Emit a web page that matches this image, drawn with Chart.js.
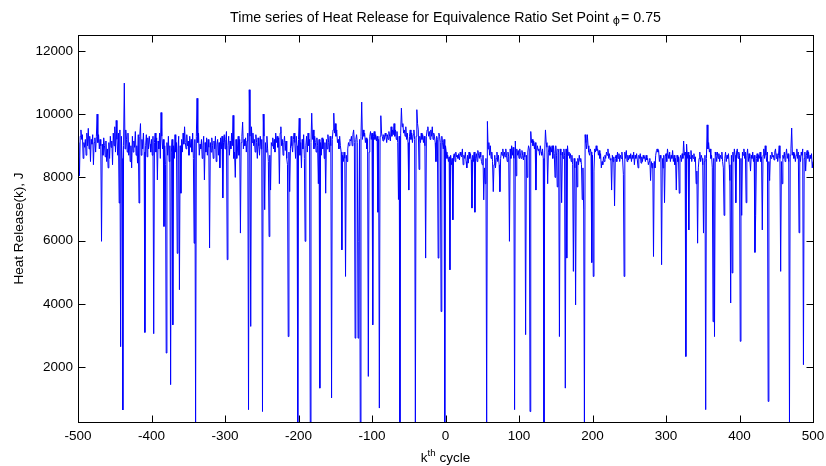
<!DOCTYPE html>
<html>
<head>
<meta charset="utf-8">
<script src="https://cdn.jsdelivr.net/npm/chart.js@4.4.1/dist/chart.umd.min.js"></script>
<style>
    html, body { margin: 0; padding: 0; background: #fff; }
    #wrap { width: 826px; height: 466px; }
</style>
</head>
<body>
<div id="wrap"><canvas id="heatChart" width="826" height="466"></canvas></div>
<script>
// k-th cycle runs from -500 to 500, one value per cycle
const firstCycle = -500;

// Heat release per cycle (J)
const heatRelease = [
    8700,9100,8050,9300,9500,9200,9350,8600,9100,8950,9200,8700,9400,9000,9550,8900,9300,8500,9200,9050,9350,8400,9100,9250,8800,9300,10000,9100,9350,8900,9200,9000,5980,9050,8700,9250,9000,8650,9150,8500,8900,8300,9100,8600,9300,8950,9150,8400,9400,9000,
    9600,8800,9800,9200,8700,9400,7190,9500,2650,9300,8600,650,9000,10980,8900,9500,9200,8800,9400,8700,9100,8500,9000,8300,9300,8800,9150,8950,9450,8700,9000,8450,9350,7190,9300,9700,8700,9200,8900,9400,8800,3100,9000,9350,8650,9250,8900,9300,9050,8800,
    9200,8700,9300,3060,9100,9400,8800,9250,7920,9150,8900,9400,8600,10050,9300,8900,9200,6450,9000,8400,2450,9100,8700,9300,8500,9000,1450,8800,9200,3340,9000,8600,9350,8800,9100,5600,8900,9300,4450,9000,7500,9200,8800,9400,9050,9600,9100,8900,9350,9000,
    9150,8700,9300,8950,9200,8800,9400,8600,5920,9200,270,9300,10500,9100,9400,8700,9050,8900,9200,8600,9000,9300,7920,9100,8800,9250,8700,9200,8950,5770,9100,8800,9250,9000,8600,9150,8900,9300,8500,9050,9200,8700,9100,8300,9250,8900,9300,7350,9100,9350,
    8900,9200,9450,5400,9000,9300,8700,9150,8900,9400,9000,9960,8600,8800,8000,9200,8600,8900,9300,8700,9200,6240,9100,9300,9750,8900,9200,9000,9250,8800,9150,9400,660,10770,9300,3290,9600,9100,9400,9000,9200,8800,9350,9100,8600,9250,9000,8700,9300,8900,
    9200,600,10000,9300,6980,9100,8800,9300,8900,8500,6130,8700,7600,9100,9000,9250,8900,9200,8800,9400,9100,9300,8950,9250,7800,9400,9600,9000,9200,8700,9100,9300,8850,9150,8600,8400,2970,8800,7550,8900,9300,9000,8800,9200,9400,9100,8600,9300,9000,270,
    9200,9870,8700,9100,8300,9200,8900,9350,8600,5980,9000,9300,8800,9400,9000,9200,270,9100,10030,9200,9500,8900,9300,9100,8800,9250,9000,7800,9200,1340,9100,8700,9250,8900,9200,8600,9100,7500,9200,8900,9350,9100,8800,9300,9000,1030,9200,9500,10030,9400,
    9700,9300,9500,9100,9200,8900,9300,9000,8800,5710,8700,8500,8800,8600,4870,8700,8500,8900,9100,9000,9200,9150,9300,9000,9350,9500,9100,2920,9200,9350,9100,2920,5980,9200,270,9300,10380,9200,9500,9300,9400,9100,9250,8900,9200,1710,8800,9300,9450,9200,
    9400,3340,9300,9450,9200,9350,9150,9300,6900,9200,710,9300,9950,9400,9300,9150,9350,9200,9400,9300,9100,9350,9200,9450,9300,9150,9600,9300,9500,9350,9700,9300,9500,9200,9450,9100,7300,9300,270,9400,10190,9600,9700,9400,9500,9300,9600,9200,9400,9100,
    7600,9300,9500,9200,9400,9100,9350,9500,9200,270,9300,10140,9700,9500,8250,9300,9100,9400,9200,9350,9100,9300,9000,5450,9300,9500,9600,9300,9450,9200,9500,9300,9600,9200,9400,9300,9100,8500,9300,9200,5450,9400,9300,9100,3760,9300,9100,8900,9200,270,
    9000,8800,8600,8700,8500,8650,5080,8700,8400,8600,6660,8700,8750,8500,8800,8650,8700,8600,8750,8550,8800,8700,8650,8900,8400,8700,8600,8800,8500,8300,8700,8450,8800,8600,8750,8550,7030,8700,8500,8800,6900,8600,8750,8500,8850,8700,8600,8800,8650,8500,
    8400,8700,7290,8300,7800,8600,270,9770,8900,9100,8700,9000,8600,8800,8500,7550,8400,8700,8300,8600,8800,8500,8700,8400,7550,8600,8800,8700,8900,8600,8800,8650,8900,8700,8500,8800,8650,5980,8900,8600,9000,8700,8950,8600,660,9150,8050,8900,8700,8850,
    8600,8900,8700,8600,8850,8700,8550,8800,8650,3030,8700,8000,8800,9000,8900,600,9450,9100,9200,9000,9150,8900,9100,7600,8800,9000,8850,8900,8700,9000,8800,8700,8900,8600,270,8800,9500,9100,8950,7800,8800,9000,8700,8950,8800,9000,8600,9000,8750,8000,
    9000,8700,7700,8900,8800,2970,8900,8700,7200,8800,8600,8900,8700,1340,8900,5450,9000,8700,8800,8600,8750,8500,8700,8400,5030,8600,8300,3970,8500,7700,8600,8400,8700,8500,8600,8400,7300,8300,7000,270,9350,9100,8900,9350,9000,8800,8700,8900,8800,5310,
    8700,4870,8200,8900,8800,9000,8850,8900,8700,8850,8600,8750,8300,8500,8400,8650,8500,8700,8600,8800,8700,8900,8600,8750,8550,8600,7600,8700,8500,8650,7100,8600,8700,8500,8800,8600,8750,8500,8700,8600,8800,8550,8100,4870,8800,8600,8850,8500,8700,8550,
    8700,8600,8750,8500,8700,8600,8800,8400,8700,8600,8750,8550,8300,8700,8600,8750,8450,8650,8500,8700,8600,8650,8500,8700,8550,8600,8400,8500,8600,7900,8500,8300,8450,5500,8500,8300,8700,8850,8900,8800,8850,8500,8700,8600,5240,8600,8300,8700,7200,8650,
    8750,8500,8900,8700,8600,8800,8500,8700,8600,8850,8500,8700,8400,8600,7600,8700,8500,8650,7500,8600,8700,8500,8750,8600,9150,8700,8800,2340,9050,8600,8800,6340,8700,8600,8850,8500,8700,8600,8750,8500,8650,7800,8200,5920,8300,8600,8800,8500,8700,8600,
    8400,6240,8500,8700,660,8600,9660,8900,9100,8800,8900,8600,8700,8300,3440,8600,2970,8800,8700,8500,8800,8600,8750,8500,8700,8600,8800,8500,8300,6800,8600,8800,8500,8700,8600,8750,8400,7900,4030,8700,4980,8800,8500,8900,8700,7200,8800,8900,8600,8800,
    8700,2820,8600,6800,8800,8700,8900,8600,8800,7200,8700,8900,8500,8750,8600,8200,8700,8600,8800,8500,8700,5630,6800,8600,8750,8500,8700,8600,8800,8500,8650,6340,8700,8900,8600,9000,8700,8500,8800,920,8500,7900,8700,8600,8800,8650,8700,8550,8800,8900,
    8600,8750,8500,8700,9000,8600,5030,8500,7800,8700,8600,8800,8500,8700,8900,8600,8750,8500,270,8700,8900,9560,8700,8800,8600,8750,8500,8700,8900,8600,8800,6250,8700,8500,8800,8700,8900,2080,8600,8800,8200,8700,8850,8600,8800,8500,8700,8600,8750,8300,
    8500
];

const xTicks = [-500, -400, -300, -200, -100, 0, 100, 200, 300, 400, 500];
const yTicks = [2000, 4000, 6000, 8000, 10000, 12000];
const xMin = -500, xMax = 500;
const yMin = 270, yMax = 12500;

const titleMain = 'Time series of Heat Release for Equivalence Ratio Set Point ';
const titlePhi = 'ϕ';
const titleTail = '= 0.75';
const yTitle = 'Heat Release(k), J';

const FONT = '"Liberation Sans", Arial, sans-serif';
const FONT_SIZE = 13.5;
const TITLE_SIZE = 14.2;

const points = heatRelease.map((v, i) => ({ x: firstCycle + i, y: v }));

// box, inward ticks and the texts (MATLAB style)
const framePlugin = {
    id: 'frame',
    afterDraw(chart) {
        const { ctx, chartArea: a, scales } = chart;
        const xs = scales.x, ys = scales.y;
        const tick = 7;
        ctx.save();
        ctx.strokeStyle = '#000';
        ctx.lineWidth = 1;
        const L = Math.round(a.left) + 0.5, R = Math.round(a.right) + 0.5;
        const T = Math.round(a.top) + 0.5, B = Math.round(a.bottom) + 0.5;
        ctx.strokeRect(L, T, R - L, B - T);

        ctx.beginPath();
        xTicks.forEach(v => {
            const px = Math.round(xs.getPixelForValue(v)) + 0.5;
            ctx.moveTo(px, B); ctx.lineTo(px, B - tick);
            ctx.moveTo(px, T); ctx.lineTo(px, T + tick);
        });
        yTicks.forEach(v => {
            const py = Math.round(ys.getPixelForValue(v)) + 0.5;
            ctx.moveTo(L, py); ctx.lineTo(L + tick, py);
            ctx.moveTo(R, py); ctx.lineTo(R - tick, py);
        });
        ctx.stroke();

        ctx.fillStyle = '#000';
        ctx.textBaseline = 'alphabetic';
        ctx.textAlign = 'left';

        // title with a small lowered phi
        const tf = TITLE_SIZE + 'px ' + FONT;
        const pf = '11px "DejaVu Sans", sans-serif';
        ctx.font = tf;
        const w1 = ctx.measureText(titleMain).width;
        const w3 = ctx.measureText(titleTail).width;
        ctx.font = pf;
        const wp = ctx.measureText(titlePhi).width + 1;
        const cx = (a.left + a.right) / 2;
        const tx = cx - (w1 + wp + w3) / 2;
        const ty = 22;
        ctx.font = tf;
        ctx.fillText(titleMain, tx, ty);
        ctx.fillText(titleTail, tx + w1 + wp, ty);
        ctx.font = pf;
        ctx.fillText(titlePhi, tx + w1, ty + 2);

        // x title: k^th cycle
        const f = FONT_SIZE + 'px ' + FONT;
        const sf = (FONT_SIZE * 0.72) + 'px ' + FONT;
        ctx.font = f;
        const wk = ctx.measureText('k').width;
        const wc = ctx.measureText(' cycle').width;
        ctx.font = sf;
        const wth = ctx.measureText('th').width;
        const lx = cx - (wk + wth + wc) / 2;
        const ly = 462;
        ctx.font = f;
        ctx.fillText('k', lx, ly);
        ctx.font = sf;
        ctx.fillText('th', lx + wk, ly - 6);
        ctx.font = f;
        ctx.fillText(' cycle', lx + wk + wth, ly);

        // y title
        ctx.translate(23, (a.top + a.bottom) / 2);
        ctx.rotate(-Math.PI / 2);
        ctx.textAlign = 'center';
        ctx.fillText(yTitle, 0, 0);
        ctx.restore();
    }
};

const ctx = document.getElementById('heatChart').getContext('2d');
new Chart(ctx, {
    type: 'line',
    data: {
        datasets: [{
            data: points,
            borderColor: '#0000ff',
            borderWidth: 1,
            pointRadius: 0,
            tension: 0,
            fill: false
        }]
    },
    options: {
        responsive: false,
        animation: false,
        events: [],
        layout: { padding: { left: 0, right: 13, top: 35, bottom: 0 } },
        plugins: { legend: { display: false }, tooltip: { enabled: false }, title: { display: false } },
        scales: {
            x: {
                type: 'linear',
                min: xMin, max: xMax,
                grid: { display: false, drawTicks: false },
                border: { display: false },
                afterBuildTicks: s => { s.ticks = xTicks.map(v => ({ value: v })); },
                afterFit: s => { s.height = 44; s.paddingLeft = 0; s.paddingRight = 0; },
                ticks: { color: '#000', padding: 6, maxRotation: 0, callback: v => String(v), font: { family: FONT, size: FONT_SIZE } }
            },
            y: {
                type: 'linear',
                min: yMin, max: yMax,
                grid: { display: false, drawTicks: false },
                border: { display: false },
                afterBuildTicks: s => { s.ticks = yTicks.map(v => ({ value: v })); },
                afterFit: s => { s.width = 78; s.paddingTop = 0; s.paddingBottom = 0; },
                ticks: { color: '#000', padding: 5, callback: v => String(v), font: { family: FONT, size: FONT_SIZE } }
            }
        }
    },
    plugins: [framePlugin]
});
</script>
</body>
</html>
